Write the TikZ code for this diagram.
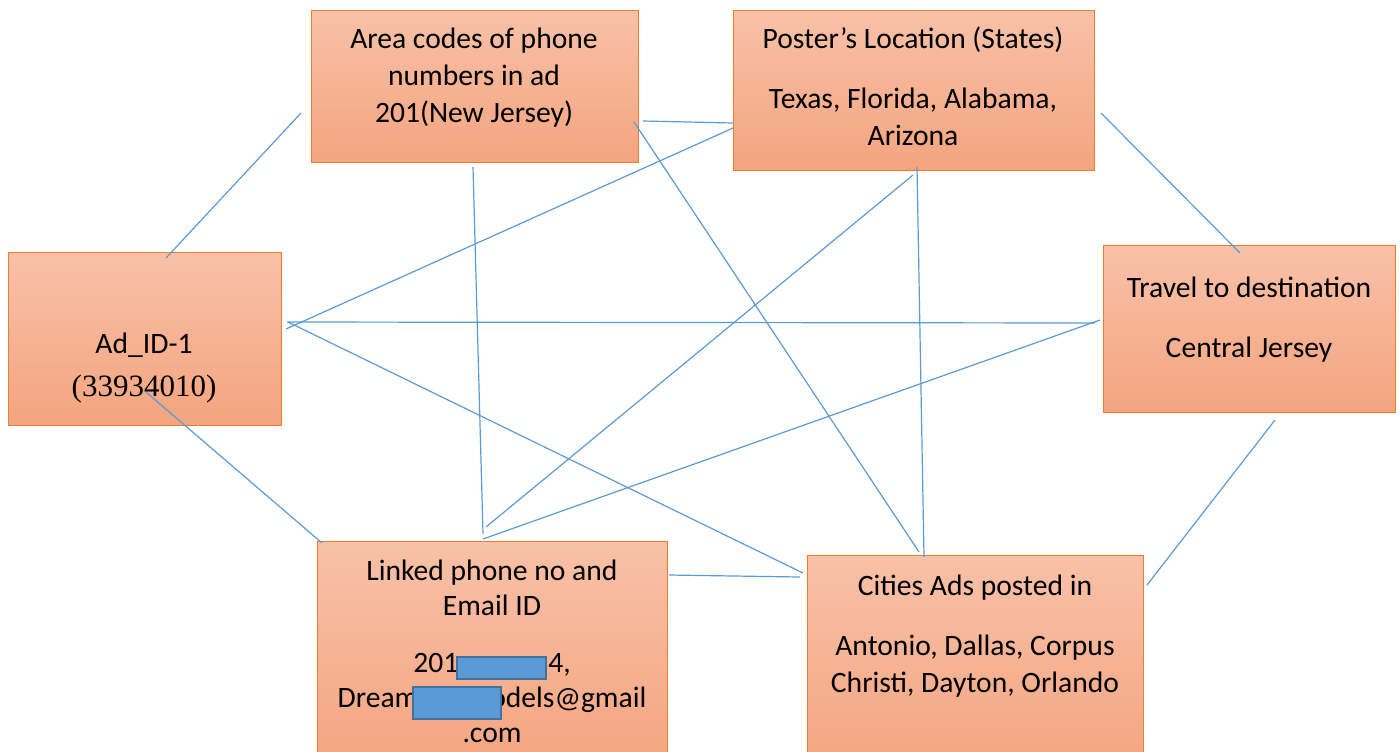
\documentclass[tikz,border=0pt]{standalone}
\usepackage{fontspec}
\setmainfont{Carlito}
\newfontfamily\timesfont{Liberation Serif}

\definecolor{boxtop}{HTML}{F8C1A8}
\definecolor{boxbottom}{HTML}{F4A47F}
\definecolor{boxline}{HTML}{ED7D31}
\definecolor{linkblue}{HTML}{5B9BD5}
\definecolor{hideline}{HTML}{41719C}

\tikzset{
  box/.style={draw=boxline, line width=0.6pt, top color=boxtop, bottom color=boxbottom,
    anchor=north west, inner sep=0pt},
  boxtext/.style={anchor=north, align=center, inner sep=0pt, font=\fontsize{14.8}{18.5}\selectfont},
  link/.style={draw=linkblue, line width=0.6pt},
  hide/.style={draw=hideline, fill=linkblue, line width=0.8pt}
}

\begin{document}
\begin{tikzpicture}[x=0.5pt,y=-0.5pt]
  \useasboundingbox (0,0) rectangle (1400,751);
  \clip (0,0) rectangle (1400,751);

  % boxes
  \node[box, minimum width=163.5pt, minimum height=76pt]  (area)   at (311,10)  {};
  \node[box, minimum width=180.5pt, minimum height=80pt]  (poster) at (733,10)  {};
  \node[box, minimum width=136.5pt, minimum height=86.5pt] (ad)    at (8,252)   {};
  \node[box, minimum width=146pt,   minimum height=83.5pt] (travel) at (1103,245) {};
  \node[box, minimum width=175pt,   minimum height=115pt] (linked) at (317,541) {};
  \node[box, minimum width=168pt,   minimum height=110pt] (cities) at (807,555) {};

  % texts
  \node[boxtext] (areatext) at (474,22)
    {\strut Area codes of phone\\numbers in ad\\201(New Jersey)};
  \node[boxtext] (postertext) at (913,22)
    {\strut Poster’s Location (States)\\[11.5pt]Texas, Florida, Alabama,\\Arizona};
  \node[boxtext] (adtext) at (144,327)
    {\strut Ad\_ID-1\\[3pt]{\timesfont\fontsize{15.5}{18}\selectfont(33934010)}};
  \node[boxtext] (traveltext) at (1249,271)
    {\strut Travel to destination\\[11.5pt]Central Jersey};
  \node[boxtext, font=\fontsize{14.8}{17.5}\selectfont] (linkedtext) at (492,556)
    {\strut Linked phone no and\\Email ID\\[11pt]201\phantom{000000}4,\\Dream\hspace{36pt}odels@gmail\\.com};
  \node[boxtext] (citiestext) at (975,569)
    {\strut Cities Ads posted in\\[11.5pt]Antonio, Dallas, Corpus\\Christi, Dayton, Orlando};

  % hidden parts of the contact line
  \draw[hide] (457,657) rectangle (546,679);
  \draw[hide] (413,687) rectangle (501,719);

  % connector ends
  \coordinate (areaW)    at (301,113);
  \coordinate (areaE)    at (643,121);
  \coordinate (areaSE)   at (634,122);
  \coordinate (areaS)    at (473,167);
  \coordinate (posterW)  at (733,123);
  \coordinate (posterSW) at (733,128);
  \coordinate (posterS)  at (917,167);
  \coordinate (posterS2) at (913,175);
  \coordinate (posterE)  at (1101,113);
  \coordinate (adN)      at (166,258);
  \coordinate (adE)      at (287,322);
  \coordinate (adE2)     at (288,322);
  \coordinate (adE3)     at (286,329);
  \coordinate (adS)      at (146,392);
  \coordinate (travelN)  at (1240,253);
  \coordinate (travelW)  at (1095,323);
  \coordinate (travelW2) at (1100,320);
  \coordinate (travelS)  at (1275,420);
  \coordinate (linkedNW) at (322,543);
  \coordinate (linkedN)  at (483,534);
  \coordinate (linkedN2) at (486,527);
  \coordinate (linkedN3) at (483,539);
  \coordinate (linkedE)  at (669,575);
  \coordinate (citiesN)  at (924,557);
  \coordinate (citiesN2) at (919,552);
  \coordinate (citiesW)  at (803,573);
  \coordinate (citiesW2) at (800,577);
  \coordinate (citiesE)  at (1147,585);

  % connectors
  \foreach \s/\t in {areaW/adN, areaE/posterW, areaSE/citiesN2, areaS/linkedN,
                     posterSW/adE3, posterS/citiesN, posterS2/linkedN2, posterE/travelN,
                     adE/travelW, adE2/citiesW, adS/linkedNW,
                     travelW2/linkedN3, travelS/citiesE, linkedE/citiesW2} {
    \draw[link] (\s) -- (\t);
  }
\end{tikzpicture}
\end{document}
